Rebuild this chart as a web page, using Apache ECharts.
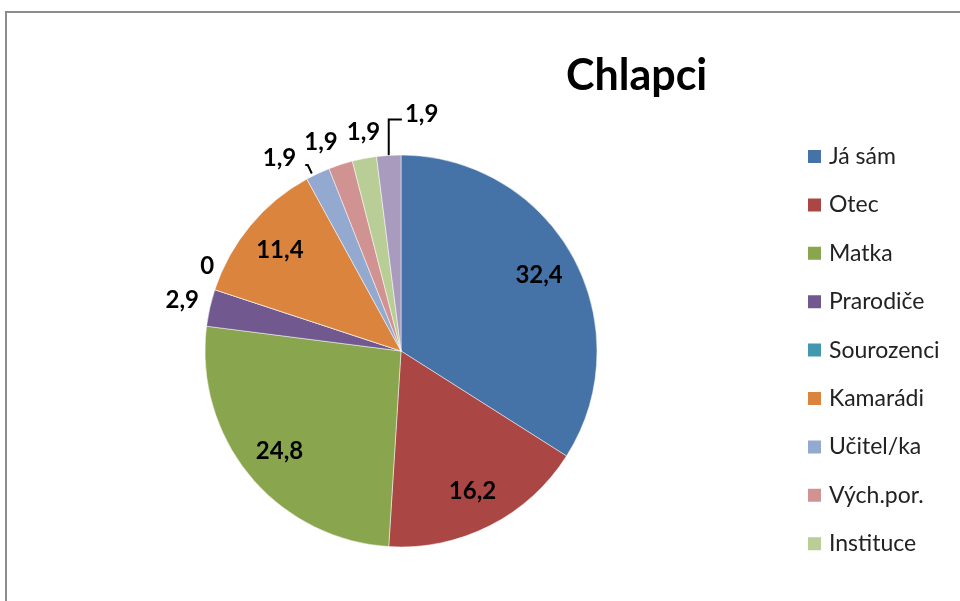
<!DOCTYPE html>
<html>
<head>
<meta charset="utf-8">
<script src="https://cdn.jsdelivr.net/npm/echarts@6/dist/echarts.min.js"></script>
<style>
  html, body { margin: 0; padding: 0; background: #fff; }
  #chlapciChart { width: 960px; height: 601px; }
</style>
</head>
<body>
<div id="chlapciChart"></div>
<script>
// kategorie a hodnoty (%)
const categories = ['Já sám', 'Otec', 'Matka', 'Prarodiče', 'Sourozenci', 'Kamarádi', 'Učitel/ka', 'Vých.por.', 'Instituce', 'Jiné']
const values = [32.4, 16.2, 24.8, 2.9, 0, 11.4, 1.9, 1.9, 1.9, 1.9]
const colors = ['#4572A7', '#AA4643', '#89A54E', '#71588F', '#4198AF', '#DB843D', '#93A9CF', '#D19392', '#B9CD96', '#A99BBD']
// popisky uvnitř výseče
const insideLabels = [true, true, true, false, false, true, false, false, false, false]
// odkazová čára u popisku
const withLine = [false, false, false, false, false, false, true, false, false, true]
// legenda ukazuje jen prvních 9 položek
const legendNames = categories.slice(0, 9)

const pieCenter = [401, 351]
const pieRadius = 196

// posuny vnějších popisků (jako v Excelu)
const labelNudge = {
  'Prarodiče': [0, -6],
  'Sourozenci': [10, -22],
  'Učitel/ka': [-14, -10],
  'Vých.por.': [4, -17],
  'Instituce': [22, -20],
  'Jiné': [55, -35],
}

const chart = echarts.init(document.getElementById('chlapciChart'))

const option = {
  animation: false,
  color: colors,
  title: {
    text: 'Chlapci',
    left: 561,
    top: 50,
    textStyle: {
      fontFamily: 'Lato',
      fontSize: 43,
      fontWeight: 'bold',
      color: '#000',
    },
  },
  legend: {
    orient: 'vertical',
    left: 801,
    top: 140,
    data: legendNames,
    itemWidth: 15,
    itemHeight: 15,
    itemGap: 25.4,
    icon: 'rect',
    selectedMode: false,
    textStyle: {
      fontFamily: 'Lato',
      fontSize: 23,
      color: '#222',
      padding: [0, 0, 0, 2],
    },
  },
  graphic: [
    {
      // rámeček grafu
      type: 'rect',
      shape: { x: 6, y: 12, width: 1000, height: 700 },
      style: { fill: 'none', stroke: '#8c8c8c', lineWidth: 2 },
      silent: true,
    },
  ],
  series: [
    {
      type: 'pie',
      center: pieCenter,
      radius: pieRadius,
      startAngle: 90,
      clockwise: true,
      avoidLabelOverlap: false,
      itemStyle: { borderColor: '#fff', borderWidth: 0.5 },
      label: {
        show: true,
        position: 'outside',
        fontFamily: 'Lato',
        fontSize: 24,
        fontWeight: 'bold',
        color: '#000',
        formatter: (p) => String(p.value).replace('.', ','),
      },
      labelLine: {
        show: false,
        length: 6,
        length2: 0,
        lineStyle: { color: '#000', width: 2 },
      },
      labelLayout: (params) => {
        const r = params.labelRect
        const i = params.dataIndex
        if (insideLabels[i]) {
          const lx = r.x + r.width / 2
          const ly = r.y + r.height / 2
          // posunout popisek z 0.5r na ~0.78r
          return {
            dx: (lx - pieCenter[0]) * 0.56,
            dy: (ly - pieCenter[1]) * 0.56,
          }
        }
        const n = labelNudge[categories[i]] || [0, 0]
        const res = { dx: n[0], dy: n[1] }
        if (withLine[i] && params.labelLinePoints) {
          const p0 = params.labelLinePoints[0]
          const left = r.x + n[0]
          const right = r.x + r.width + n[0]
          const midY = r.y + r.height / 2 + n[1]
          if (p0[0] > right) {
            // popisek vlevo od výseče
            const y = midY + 7
            res.labelLinePoints = [[p0[0] - 6, p0[1]], [p0[0] - 10, y], [right + 9, y]]
          } else {
            // popisek vpravo nad výsečí
            const y = midY + 5
            res.labelLinePoints = [p0, [p0[0], y], [left - 3, y]]
          }
        }
        return res
      },
      data: categories.map((name, i) => ({
        name: name,
        value: values[i],
        label: insideLabels[i] ? { position: 'inside' } : {},
        labelLine: { show: withLine[i] },
      })),
    },
  ],
}

chart.setOption(option)
window.onresize = function () {
  chart.resize()
}
</script>
</body>
</html>
